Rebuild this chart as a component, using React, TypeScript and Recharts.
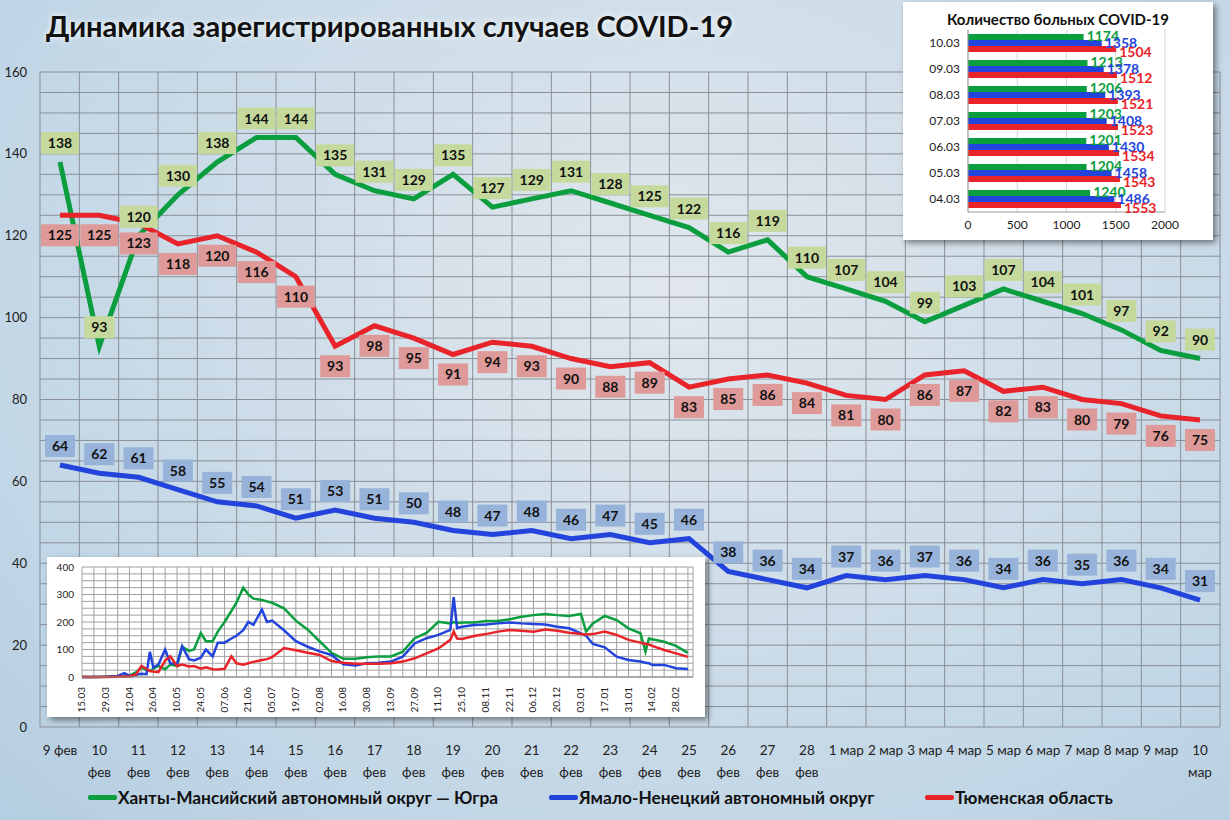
import React from "react";
import {
  LineChart,
  Line,
  XAxis,
  YAxis,
  CartesianGrid,
  LabelList,
  BarChart,
  Bar,
} from "recharts";

// main chart: daily figures, 9 Feb - 10 Mar
const days = [
  "9 фев", "10 фев", "11 фев", "12 фев", "13 фев", "14 фев", "15 фев", "16 фев",
  "17 фев", "18 фев", "19 фев", "20 фев", "21 фев", "22 фев", "23 фев", "24 фев",
  "25 фев", "26 фев", "27 фев", "28 фев", "1 мар", "2 мар", "3 мар", "4 мар",
  "5 мар", "6 мар", "7 мар", "8 мар", "9 мар", "10 мар",
];
const yugra = [
  138, 93, 120, 130, 138, 144, 144, 135, 131, 129, 135, 127, 129, 131, 128, 125,
  122, 116, 119, 110, 107, 104, 99, 103, 107, 104, 101, 97, 92, 90,
];
const yamal = [
  64, 62, 61, 58, 55, 54, 51, 53, 51, 50, 48, 47, 48, 46, 47, 45, 46, 38, 36, 34,
  37, 36, 37, 36, 34, 36, 35, 36, 34, 31,
];
const tyumen = [
  125, 125, 123, 118, 120, 116, 110, 93, 98, 95, 91, 94, 93, 90, 88, 89, 83, 85,
  86, 84, 81, 80, 86, 87, 82, 83, 80, 79, 76, 75,
];
const mainTicks = [0, 20, 40, 60, 80, 100, 120, 140, 160];

// top-right inset: number of patients
const sickDates = ["04.03", "05.03", "06.03", "07.03", "08.03", "09.03", "10.03"];
const sickYugra = [1240, 1204, 1201, 1203, 1206, 1213, 1174];
const sickYamal = [1486, 1458, 1430, 1408, 1393, 1378, 1358];
const sickTyumen = [1553, 1543, 1534, 1523, 1521, 1512, 1504];

// bottom-left inset: whole period since 15.03 (day number from 15.03)
const histDays = [
  0, 7, 14, 21, 25, 28, 32, 35, 38, 40, 42, 45, 49, 52, 56, 59, 63, 66, 70, 73,
  77, 80, 84, 88, 91, 95, 98, 101, 106, 109, 112, 119, 126, 133, 140, 147, 154,
  161, 168, 175, 182, 189, 196, 203, 210, 217, 219, 221, 224, 231, 238, 245, 252,
  259, 266, 273, 280, 287, 294, 297, 301, 308, 315, 322, 329, 332, 334, 336, 343,
  350, 357,
];
const histYugra = [
  0, 0, 1, 2, 3, 5, 18, 35, 25, 22, 30, 40, 28, 45, 40, 110, 95, 100, 160, 130,
  130, 165, 200, 240, 270, 325, 300, 285, 280, 275, 270, 250, 205, 172, 130, 88,
  66, 66, 72, 75, 75, 92, 141, 160, 201, 195, 200, 196, 198, 198, 204, 204, 210,
  219, 225, 229, 225, 222, 229, 165, 195, 222, 207, 177, 159, 92, 140, 137, 128,
  113, 88,
];
const histYamal = [
  0, 0, 1, 4, 14, 4, 8, 12, 10, 92, 35, 45, 100, 50, 48, 112, 65, 60, 70, 100,
  75, 125, 125, 140, 150, 170, 200, 190, 245, 200, 205, 170, 130, 110, 93, 80,
  46, 42, 50, 52, 56, 74, 122, 141, 153, 171, 290, 178, 183, 189, 191, 195, 198,
  195, 193, 191, 183, 177, 159, 150, 120, 108, 74, 62, 56, 52, 50, 44, 44, 32, 29,
];
const histTyumen = [
  0, 0, 0, 1, 2, 2, 10, 40, 30, 22, 20, 18, 60, 75, 40, 45, 38, 40, 30, 35, 28,
  27, 30, 75, 50, 45, 50, 55, 62, 65, 72, 105, 97, 88, 80, 58, 52, 48, 48, 48,
  50, 56, 68, 86, 104, 135, 165, 140, 138, 149, 156, 165, 171, 168, 165, 173,
  168, 161, 156, 155, 156, 165, 153, 135, 125, 120, 118, 113, 98, 86, 73,
];
const histTickLabels = [
  "15.03", "29.03", "12.04", "26.04", "10.05", "24.05", "07.06", "21.06", "05.07",
  "19.07", "02.08", "16.08", "30.08", "13.09", "27.09", "11.10", "25.10", "08.11",
  "22.11", "06.12", "20.12", "03.01", "17.01", "31.01", "14.02", "28.02",
];

const GREEN = "#0b9e3e";
const BLUE = "#2344dc";
const RED = "#e8242a";
const FONT = "Lato, 'Open Sans', sans-serif";

const mainData = days.map((d, i) => ({
  day: d,
  yugra: yugra[i],
  yamal: yamal[i],
  tyumen: tyumen[i],
}));
const sickData = sickDates.map((d, i) => ({
  date: d,
  yugra: sickYugra[i],
  yamal: sickYamal[i],
  tyumen: sickTyumen[i],
}));
const histData = histDays.map((d, i) => ({
  day: d,
  yugra: histYugra[i],
  yamal: histYamal[i],
  tyumen: histTyumen[i],
}));
const histTicks = histTickLabels.map((_, i) => i * 14);

function DayTick(props: any) {
  const { x, y, payload } = props;
  const v = String(payload.value);
  const parts = v.length > 5 ? v.split(" ") : [v];
  return (
    <g transform={`translate(${x},${y})`}>
      {parts.map((p, i) => (
        <text key={i} x={0} y={i * 22} dy={20} textAnchor="middle" fontSize={13.5} fill="#222" fontFamily={FONT}>
          {p}
        </text>
      ))}
    </g>
  );
}

const boxLabel = (bg: string, dy: number) => (props: any) => {
  const { x, y, value } = props;
  const w = String(value).length > 2 ? 38 : 30;
  return (
    <g>
      <rect x={x - w / 2} y={y + dy - 11} width={w} height={22} fill={bg} />
      <text x={x} y={y + dy} dy={5} textAnchor="middle" fontSize={14} fontWeight="bold" fill="#111" fontFamily={FONT}>
        {value}
      </text>
    </g>
  );
};

const barLabel = (color: string, dx: number, dy: number) => (props: any) => {
  const { x, y, width, height, value } = props;
  return (
    <text x={x + width + dx} y={y + height / 2 + dy} dy={5} fontSize={14} fontWeight="bold" fill={color} fontFamily={FONT}>
      {value}
    </text>
  );
};

function HistTick(props: any) {
  const { x, y, payload } = props;
  const label = histTickLabels[Math.round(payload.value / 14)] ?? "";
  return (
    <text
      transform={`translate(${x + 3},${y + 2}) rotate(-90)`}
      textAnchor="end"
      fontSize={10}
      fill="#222"
      fontFamily={FONT}
    >
      {label}
    </text>
  );
}

function LegendItem({ color, text }: { color: string; text: string }) {
  return (
    <div style={{ display: "flex", alignItems: "center" }}>
      <div style={{ width: 29, height: 5, background: color, borderRadius: 2 }} />
      <span style={{ marginLeft: 1, fontWeight: "bold", fontSize: 17.3, color: "#111", whiteSpace: "nowrap" }}>{text}</span>
    </div>
  );
}

export default function App() {
  return (
    <div
      style={{
        position: "relative",
        width: 1230,
        height: 820,
        overflow: "hidden",
        fontFamily: FONT,
        background:
          "radial-gradient(ellipse at 55% 35%, #e1e7ed 0%, #d0dee9 40%, #c1d6e6 75%, #b4cde0 100%)",
      }}
    >
      <style>{"body{margin:0}"}</style>
      <div
        style={{
          position: "absolute",
          left: 46,
          top: 8,
          fontSize: 29,
          fontWeight: "bold",
          color: "#111",
          textShadow: "0 0 6px #fff",
        }}
      >
        Динамика зарегистрированных случаев COVID-19
      </div>

      <div style={{ position: "absolute", left: 0, top: 0 }}>
        <LineChart width={1230} height={820} data={mainData} margin={{ top: 72, right: 10, left: 0, bottom: 43 }}>
          <CartesianGrid
            stroke="#8a8f96"
            strokeWidth={1}
            verticalCoordinatesGenerator={({ offset }: any) =>
              Array.from({ length: 31 }, (_, i) => offset.left + (i * offset.width) / 30)
            }
            horizontalCoordinatesGenerator={({ offset }: any) =>
              Array.from({ length: 33 }, (_, i) => offset.top + (i * offset.height) / 32)
            }
          />
          <XAxis
            dataKey="day"
            interval={0}
            tickLine={false}
            axisLine={false}
            height={50}
            padding={{ left: 20, right: 20 }}
            tick={<DayTick />}
          />
          <YAxis
            domain={[0, 160]}
            ticks={mainTicks}
            width={40}
            tickLine={false}
            axisLine={false}
            tick={{ fontSize: 13, fill: "#222", fontFamily: FONT, dx: -5 }}
          />
          <Line dataKey="yugra" stroke={GREEN} strokeWidth={5} dot={false} isAnimationActive={false}>
            <LabelList dataKey="yugra" content={boxLabel("#c5d99d", -19)} />
          </Line>
          <Line dataKey="tyumen" stroke={RED} strokeWidth={5} dot={false} isAnimationActive={false}>
            <LabelList dataKey="tyumen" content={boxLabel("#dd9a98", 20)} />
          </Line>
          <Line dataKey="yamal" stroke={BLUE} strokeWidth={5} dot={false} isAnimationActive={false}>
            <LabelList dataKey="yamal" content={boxLabel("#97b3d9", -19)} />
          </Line>
        </LineChart>
      </div>

      {/* top-right inset */}
      <div
        style={{
          position: "absolute",
          left: 903,
          top: 2,
          width: 310,
          height: 238,
          background: "#fff",
          boxShadow: "3px 3px 6px rgba(0,0,0,0.45)",
        }}
      >
        <div style={{ position: "absolute", left: 0, top: 8, width: 310, textAlign: "center", fontSize: 15, fontWeight: "bold", color: "#111" }}>
          Количество больных COVID-19
        </div>
        <div style={{ position: "absolute", left: 0, top: 0 }}>
          <BarChart
            width={310}
            height={238}
            data={sickData}
            layout="vertical"
            margin={{ top: 28, right: 48, left: 5, bottom: 6 }}
            barSize={6}
            barGap={0}
            barCategoryGap={4}
          >
            <CartesianGrid stroke="#d6d6d6" horizontal={false} />
            <XAxis
              type="number"
              domain={[0, 2000]}
              ticks={[0, 500, 1000, 1500, 2000]}
              tickLine={false}
              axisLine={{ stroke: "#999" }}
              height={22}
              tick={{ fontSize: 12, fill: "#222", fontFamily: FONT }}
            />
            <YAxis
              type="category"
              dataKey="date"
              reversed
              width={60}
              tickLine={false}
              axisLine={{ stroke: "#999" }}
              tick={{ fontSize: 12, fill: "#222", fontFamily: FONT }}
            />
            <Bar dataKey="yugra" fill={GREEN} isAnimationActive={false}>
              <LabelList dataKey="yugra" content={barLabel(GREEN, 3, -1)} />
            </Bar>
            <Bar dataKey="yamal" fill={BLUE} isAnimationActive={false}>
              <LabelList dataKey="yamal" content={barLabel(BLUE, 3, 0)} />
            </Bar>
            <Bar dataKey="tyumen" fill={RED} isAnimationActive={false}>
              <LabelList dataKey="tyumen" content={barLabel(RED, 3, 3)} />
            </Bar>
          </BarChart>
        </div>
      </div>

      {/* bottom-left inset */}
      <div
        style={{
          position: "absolute",
          left: 47,
          top: 557,
          width: 658,
          height: 160,
          background: "#fff",
          boxShadow: "3px 3px 6px rgba(0,0,0,0.45)",
        }}
      >
        <LineChart width={658} height={160} data={histData} margin={{ top: 10, right: 12, left: 0, bottom: 0 }}>
          <CartesianGrid
            stroke="#a0a0a0"
            verticalCoordinatesGenerator={({ offset }: any) =>
              Array.from({ length: 52 }, (_, i) => offset.left + ((i * 7) / 360) * offset.width).concat(
                offset.left + offset.width
              )
            }
            horizontalCoordinatesGenerator={({ offset }: any) =>
              Array.from({ length: 17 }, (_, i) => offset.top + (i * offset.height) / 16)
            }
          />
          <XAxis
            type="number"
            dataKey="day"
            domain={[0, 360]}
            ticks={histTicks}
            interval={0}
            tickLine={false}
            axisLine={{ stroke: "#888" }}
            height={40}
            tick={<HistTick />}
          />
          <YAxis
            domain={[0, 400]}
            ticks={[0, 100, 200, 300, 400]}
            width={35}
            tickLine={false}
            axisLine={false}
            tick={{ fontSize: 10, fill: "#222", fontFamily: FONT }}
          />
          <Line dataKey="yugra" stroke={GREEN} strokeWidth={2.5} dot={false} isAnimationActive={false} />
          <Line dataKey="yamal" stroke={BLUE} strokeWidth={2.5} dot={false} isAnimationActive={false} />
          <Line dataKey="tyumen" stroke={RED} strokeWidth={2.5} dot={false} isAnimationActive={false} />
        </LineChart>
      </div>

      {/* legend */}
      <div style={{ position: "absolute", left: 0, top: 787, width: 1230, height: 26 }}>
        <div style={{ position: "absolute", left: 88 }}>
          <LegendItem color={GREEN} text="Ханты-Мансийский автономный округ — Югра" />
        </div>
        <div style={{ position: "absolute", left: 549 }}>
          <LegendItem color={BLUE} text="Ямало-Ненецкий автономный округ" />
        </div>
        <div style={{ position: "absolute", left: 925 }}>
          <LegendItem color={RED} text="Тюменская область" />
        </div>
      </div>
    </div>
  );
}
